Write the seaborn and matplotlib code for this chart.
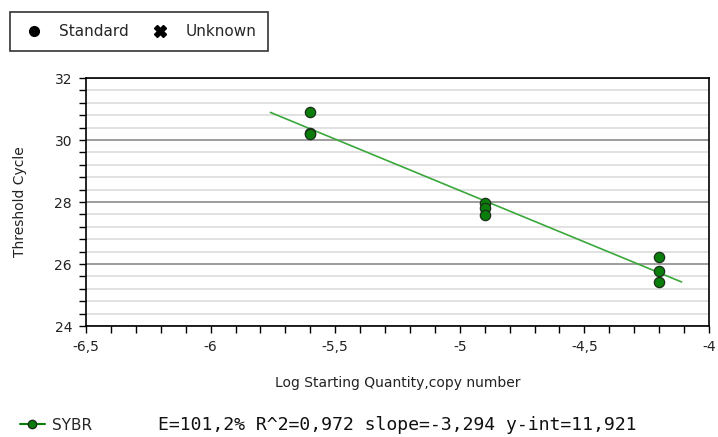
import matplotlib
matplotlib.use("Agg")
import matplotlib.pyplot as plt
import seaborn as sns
import pandas as pd
import numpy as np
from matplotlib.lines import Line2D
from matplotlib.ticker import MultipleLocator, FuncFormatter

# ---- data ----
log_qty = [-5.6, -5.6, -5.6, -4.9, -4.9, -4.9, -4.2, -4.2, -4.2]
ct_values = [30.90, 30.23, 30.20, 27.97, 27.82, 27.58, 26.23, 25.78, 25.42]
fit_x = [-5.76, -4.11]
fit_y = [30.89, 25.42]
legend_labels = ["Standard", "Unknown"]
series_name = "SYBR"
stats_text = "E=101,2% R^2=0,972 slope=-3,294 y-int=11,921"
x_label = "Log Starting Quantity,copy number"
y_label = "Threshold Cycle"

sns.set_theme(style="white")
plt.rcParams['font.family'] = ['DejaVu Sans']

fig = plt.figure(figsize=(7.18, 4.37), dpi=100)
ax = fig.add_axes([86/718, 1-326/437, (709-86)/718, (326-78)/437])

df_pts = pd.DataFrame({"x": log_qty, "y": ct_values})
df_fit = pd.DataFrame({"x": fit_x, "y": fit_y})

ax.set_xlim(-6.5, -4)
ax.set_ylim(24, 32)

# grid
ax.yaxis.set_major_locator(MultipleLocator(2))
ax.yaxis.set_minor_locator(MultipleLocator(0.4))
ax.xaxis.set_major_locator(MultipleLocator(0.5))
ax.xaxis.set_minor_locator(MultipleLocator(0.1))
ax.grid(False)
ax.yaxis.grid(True, which="minor", color="#dcdcdc", linewidth=1.2)
ax.yaxis.grid(True, which="major", color="#8c8c8c", linewidth=1.2)
ax.set_axisbelow(True)

sns.lineplot(data=df_fit, x="x", y="y", ax=ax, color="#3aa83a", linewidth=1.2, zorder=3)
sns.scatterplot(data=df_pts, x="x", y="y", ax=ax, color="#0a7d0a", edgecolor="#1c2e1c",
                linewidth=0.9, s=55, zorder=4)

def comma_fmt(v, pos):
    return ("%g" % v).replace(".", ",")
ax.xaxis.set_major_formatter(FuncFormatter(comma_fmt))
ax.yaxis.set_major_formatter(FuncFormatter(comma_fmt))

ax.tick_params(axis="both", which="both", direction="out", color="black", labelsize=10,
               labelcolor="#222222")
ax.tick_params(axis="both", which="major", length=5, width=1, pad=5)
ax.tick_params(axis="both", which="minor", length=5, width=1)
ax.tick_params(axis="x", which="both", bottom=True, top=False)
ax.tick_params(axis="y", which="both", left=True, right=False)

for sp in ax.spines.values():
    sp.set_color("black")
    sp.set_linewidth(1.2)
    sp.set_visible(True)

ax.set_xlabel(x_label, fontsize=10, labelpad=16, color="#222222")
ax.set_ylabel(y_label, fontsize=10, labelpad=20, color="#222222")

# top legend
handles = [Line2D([], [], marker="o", color="black", linestyle="none", markersize=7),
           Line2D([], [], marker="X", color="black", linestyle="none", markersize=9)]
leg = fig.legend(handles, legend_labels, loc="upper left", bbox_to_anchor=(10/718, 1-12/437),
                 ncol=2, frameon=True, fancybox=False, fontsize=11, handlelength=1.5,
                 handletextpad=0.9, columnspacing=1.3, borderpad=0.8, borderaxespad=0)
leg.get_frame().set_edgecolor("black")
leg.get_frame().set_linewidth(1.2)

# bottom series legend
h2 = [Line2D([], [], marker="o", color="#0a7d0a", markeredgecolor="#1c2e1c", markersize=6,
             linewidth=1.5)]
leg2 = fig.legend(h2, [series_name], loc="center left", bbox_to_anchor=(14/718, 1-425/437),
                  frameon=False, fontsize=11, handlelength=1.6, handletextpad=0.5, borderaxespad=0)
fig.text(158/718, 1-425/437, stats_text, fontsize=13.1, family="DejaVu Sans Mono",
         va="center", ha="left", color="#111111")

fig.savefig("out.png", dpi=100)
